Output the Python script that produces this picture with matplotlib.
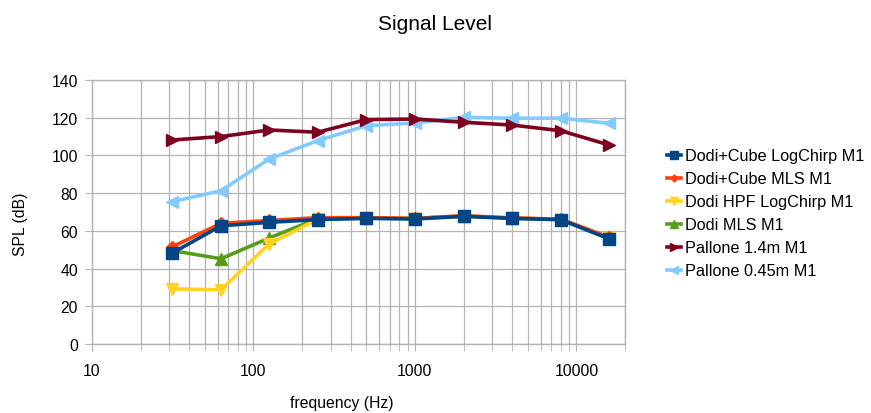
import matplotlib
matplotlib.use("Agg")
import matplotlib.pyplot as plt
from matplotlib.ticker import LogLocator, FixedLocator, NullFormatter

plt.rcParams['font.family'] = ['Liberation Sans', 'DejaVu Sans']

freqs = [31.5, 63, 125, 250, 500, 1000, 2000, 4000, 8000, 16000]
dodi_cube_logchirp = [48.3, 62.7, 64.5, 66.0, 66.6, 66.3, 67.7, 66.6, 65.9, 55.7]
dodi_cube_mls = [51.6, 64.0, 65.5, 67.0, 67.0, 66.6, 68.0, 66.8, 66.2, 56.5]
dodi_hpf_logchirp = [29.2, 28.8, 53.0, 66.2, 66.8, 66.5, 67.8, 66.7, 66.0, 56.2]
dodi_mls = [49.5, 45.2, 56.2, 66.5, 66.9, 66.6, 67.9, 66.8, 66.1, 56.5]
pallone_14 = [108.2, 110.0, 113.5, 112.3, 119.0, 119.3, 117.6, 116.1, 113.1, 105.5]
pallone_045 = [75.5, 81.3, 98.1, 107.8, 115.8, 117.2, 120.2, 119.7, 119.8, 117.0]

series = [
    ("Dodi+Cube LogChirp M1", dodi_cube_logchirp, "#004586", "s", 9),
    ("Dodi+Cube MLS M1", dodi_cube_mls, "#ff420e", "D", 6),
    ("Dodi HPF LogChirp M1", dodi_hpf_logchirp, "#ffd320", "v", 9),
    ("Dodi MLS M1", dodi_mls, "#579d1c", "^", 9),
    ("Pallone 1.4m M1", pallone_14, "#7e0021", ">", 9),
    ("Pallone 0.45m M1", pallone_045, "#83caff", "<", 9),
]
draw_order = [5, 4, 3, 2, 1, 0]

W, H = 871, 414
fig = plt.figure(figsize=(W/100, H/100), dpi=100)
ax = fig.add_axes([92/W, 1-345/H, (625-92)/W, (345-81)/H])

handles = {}
for i in draw_order:
    name, vals, col, mk, ms = series[i]
    h, = ax.plot(freqs, vals, color=col, marker=mk, markersize=ms, linewidth=2.6,
                 label=name, solid_joinstyle='miter')
    handles[i] = h

ax.set_xscale('log')
ax.set_xlim(10, 20000)
ax.set_ylim(0, 140)
ax.set_yticks(range(0, 141, 20))
ax.xaxis.set_major_locator(FixedLocator([10, 100, 1000, 10000]))
ax.xaxis.set_minor_locator(LogLocator(base=10, subs=range(2, 10), numticks=20))
ax.xaxis.set_minor_formatter(NullFormatter())
ax.set_xticklabels(["10", "100", "1000", "10000"])

gc = "#b3b3b3"
ax.grid(True, which='major', color=gc, linewidth=0.9)
ax.grid(True, which='minor', axis='x', color=gc, linewidth=0.9)
ax.set_axisbelow(True)
for s in ax.spines.values():
    s.set_color(gc)
    s.set_linewidth(1.0)
ax.tick_params(axis='both', which='both', color=gc, labelsize=11.3, length=5)
ax.tick_params(axis='y', pad=5)
ax.tick_params(axis='x', which='major', pad=9)

fig.text(342/W, 1-404/H, "frequency (Hz)", fontsize=11.3, ha='center', va='center')
fig.text(20/W, 1-224/H, "SPL (dB)", fontsize=11.3, ha='center', va='center', rotation=90)
fig.text(435/W, 1-25/H, "Signal Level", fontsize=15, ha='center', va='center')

leg = fig.legend([handles[i] for i in range(6)], [s[0] for s in series],
                 loc='upper left', bbox_to_anchor=(660/W, 1-143/H),
                 borderaxespad=0, frameon=False, fontsize=11.7, handlelength=0.9,
                 handletextpad=0.25, labelspacing=0.49, markerscale=0.6)

fig.savefig("out.png", dpi=100)
